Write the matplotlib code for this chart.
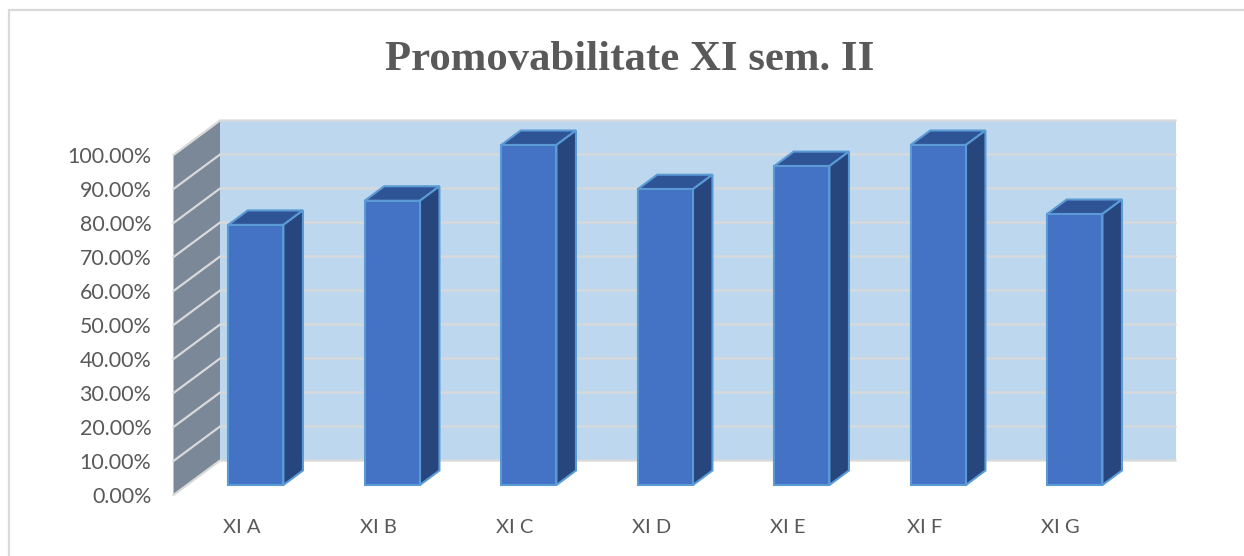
import matplotlib
matplotlib.use('Agg')
import matplotlib.pyplot as plt
from matplotlib.lines import Line2D
from matplotlib.patches import Polygon

# valorile
clase = ['XI A', 'XI B', 'XI C', 'XI D', 'XI E', 'XI F', 'XI G']
promovabilitate = [76.5, 83.6, 100.0, 87.0, 93.8, 100.0, 79.7]
y_ticks = [0, 10, 20, 30, 40, 50, 60, 70, 80, 90, 100]

W, H = 1244, 556
# colturile planseului in pixeli
x0, x1, y_jos, y_sus = 173.5, 1129, 495, 155
dx_px, dy_px = 46.5, 34.5

fig = plt.figure(figsize=(W / 100, H / 100), dpi=100)
# chenarul: doar sus si in stanga
fig.add_artist(Line2D([9 / W, 9 / W, 1], [0, 1 - 9.5 / H, 1 - 9.5 / H], color='#D9D9D9', lw=1.6,
                      solid_joinstyle='miter'))
ax = fig.add_axes([x0 / W, 1 - y_jos / H, (x1 - x0) / W, (y_jos - y_sus) / H])
ax.set_xlim(-0.5, 6.5)
ax.set_ylim(0, 100)
ax.patch.set_alpha(0)
for s in ax.spines.values():
    s.set_visible(False)

# adancimea 3D in unitati de date
dx = dx_px / ((x1 - x0) / 7)
dy = dy_px / ((y_jos - y_sus) / 100)


def p(x, y, d):
    return (x + d * dx, y + d * dy)


def fata(puncte, **kw):
    ax.add_patch(Polygon(puncte, closed=True, clip_on=False, **kw))


# peretele din spate si cel lateral
fata([p(-0.5, 0, 1), p(6.5, 0, 1), p(6.5, 100, 1), p(-0.5, 100, 1)], facecolor='#BDD7EE', edgecolor='none', zorder=1)
fata([p(-0.5, 0, 0), p(-0.5, 0, 1), p(-0.5, 100, 1), p(-0.5, 100, 0)], facecolor='#7A8898', edgecolor='none', zorder=1)
for v in y_ticks:
    a, b, c = p(-0.5, v, 0), p(-0.5, v, 1), p(6.5, v, 1)
    ax.plot([a[0], b[0], c[0]], [a[1], b[1], c[1]], color='#D9D9D9', lw=1.6, clip_on=False, zorder=2,
            solid_joinstyle='miter')

# coloanele
latime = 0.405
d1, d2 = 0.29, 0.71
muchie = '#5B9BD5'
for i, v in enumerate(promovabilitate):
    st, dr = i - latime / 2 + 0.004, i + latime / 2 + 0.004
    fata([p(st, v, d1), p(st, v, d2), p(dr, v, d2), p(dr, v, d1)], facecolor='#2F5496', edgecolor=muchie, lw=1.5,
         joinstyle='miter', zorder=3)
    fata([p(dr, 0, d1), p(dr, 0, d2), p(dr, v, d2), p(dr, v, d1)], facecolor='#27467E', edgecolor=muchie, lw=1.5,
         joinstyle='miter', zorder=3)
    fata([p(st, 0, d1), p(dr, 0, d1), p(dr, v, d1), p(st, v, d1)], facecolor='#4472C4', edgecolor=muchie, lw=1.5,
         joinstyle='miter', zorder=4)

ax.set_xticks(range(len(clase)))
ax.set_xticklabels(clase, fontsize=14.5, fontfamily='Lato', color='#595959')
ax.set_yticks(y_ticks)
ax.set_yticklabels(['%.2f%%' % v for v in y_ticks], fontsize=15.4, fontfamily='Lato', color='#595959')
ax.tick_params(axis='both', length=0)
ax.tick_params(axis='x', pad=17)
ax.tick_params(axis='y', pad=16)

fig.text(629.5 / W, 1 - 59.5 / H, 'Promovabilitate XI sem. II', ha='center', va='center', fontsize=30.8,
         fontfamily='Liberation Serif', fontweight='bold', color='#595959')

plt.savefig('out.png', dpi=100)
